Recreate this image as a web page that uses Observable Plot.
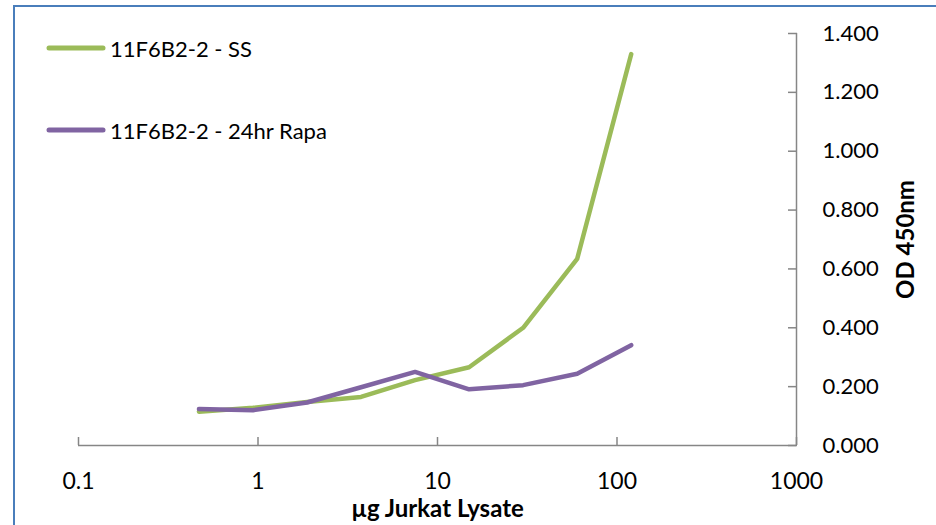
<!DOCTYPE html>
<html>
<head>
<meta charset="utf-8">
<script src="https://cdn.jsdelivr.net/npm/d3@7"></script>
<script src="https://cdn.jsdelivr.net/npm/@observablehq/plot@0.6"></script>
<style>
  html, body { margin: 0; padding: 0; background: #fff; }
  #wrap { position: relative; width: 936px; height: 525px; overflow: hidden; font-family: Lato, "Open Sans", sans-serif; }
  #border { position: absolute; left: 13px; top: 5px; width: 1000px; height: 1000px; border-left: 2px solid #4A7EBB; border-top: 2px solid #4A7EBB; box-sizing: border-box; pointer-events: none; }
  .leg { position: absolute; display: flex; align-items: center; font-size: 22px; color: #000; white-space: nowrap; }
  .leg svg { margin-right: 4px; }
</style>
</head>
<body>
<div id="wrap"><div id="border"></div></div>
<script>
// Data (µg Jurkat Lysate, two-fold dilutions)
const lysate = [0.46875, 0.9375, 1.875, 3.75, 7.5, 15, 30, 60, 120];
const ssValues = [0.115, 0.128, 0.148, 0.165, 0.222, 0.266, 0.400, 0.634, 1.330];
const rapaValues = [0.124, 0.120, 0.146, 0.198, 0.250, 0.191, 0.205, 0.244, 0.341];
const seriesNames = ["11F6B2-2 - SS", "11F6B2-2 - 24hr Rapa"];
const seriesColors = ["#9BBB59", "#8064A2"];
const xTicks = [0.1, 1, 10, 100, 1000];
const xTickLabels = ["0.1", "1", "10", "100", "1000"];
const yTicks = [0, 0.2, 0.4, 0.6, 0.8, 1.0, 1.2, 1.4];
const yTickLabels = ["0.000", "0.200", "0.400", "0.600", "0.800", "1.000", "1.200", "1.400"];
const xTitle = "µg Jurkat Lysate";
const yTitle = "OD 450nm";

const rows = [];
[ssValues, rapaValues].forEach((vals, si) => {
  vals.forEach((v, i) => rows.push({series: seriesNames[si], x: lysate[i], y: v}));
});

const axisColor = "#868686";
const chart = Plot.plot({
  width: 936,
  height: 525,
  marginLeft: 78,
  marginRight: 140,
  marginTop: 33,
  marginBottom: 80,
  style: {fontFamily: "Lato, 'Open Sans', sans-serif", fontSize: "22px", color: "#000", background: "transparent"},
  x: {type: "log", domain: [0.1, 1000]},
  y: {domain: [0, 1.4]},
  color: {domain: seriesNames, range: seriesColors},
  marks: [
    Plot.ruleY([0], {stroke: axisColor, strokeWidth: 1.5}),
    Plot.ruleX([1000], {stroke: axisColor, strokeWidth: 1.5}),
    Plot.axisX({ticks: xTicks, tickFormat: (d) => xTickLabels[xTicks.indexOf(d)], tickSize: -8, tickPadding: 35, stroke: axisColor, strokeWidth: 1.5, label: null, fontSize: 23, fill: "#000"}),
    Plot.axisY({anchor: "right", ticks: yTicks, tickFormat: (d) => yTickLabels[yTicks.indexOf(d)], tickSize: -9, tickPadding: 35, stroke: axisColor, strokeWidth: 1.5, label: null, fontSize: 22, fill: "#000", textAnchor: "start"}),
    Plot.line(rows, {x: "x", y: "y", z: "series", stroke: "series", strokeWidth: 4.5, strokeLinejoin: "round", strokeLinecap: "round"}),
    Plot.text([xTitle], {frameAnchor: "bottom", dy: 64, text: (d) => d, fontWeight: "bold", fontSize: 24, lineAnchor: "middle", textAnchor: "middle"}),
    Plot.text([yTitle], {frameAnchor: "right", dx: 110, text: (d) => d, rotate: -90, fontWeight: "bold", fontSize: 24, textAnchor: "middle", lineAnchor: "middle"})
  ]
});
const wrap = document.getElementById("wrap");
chart.style.position = "absolute";
chart.style.left = "0px";
chart.style.top = "0px";
wrap.insertBefore(chart, wrap.firstChild);

// Legend
const legendTops = [48, 130];
seriesNames.forEach((name, i) => {
  const div = document.createElement("div");
  div.className = "leg";
  div.style.left = "46px";
  div.style.top = (legendTops[i] - 15) + "px";
  div.style.height = "30px";
  div.innerHTML = `<svg width="60" height="10"><line x1="3" y1="5" x2="57" y2="5" stroke="${seriesColors[i]}" stroke-width="5" stroke-linecap="round"/></svg><span>${name}</span>`;
  wrap.appendChild(div);
});
</script>
</body>
</html>
